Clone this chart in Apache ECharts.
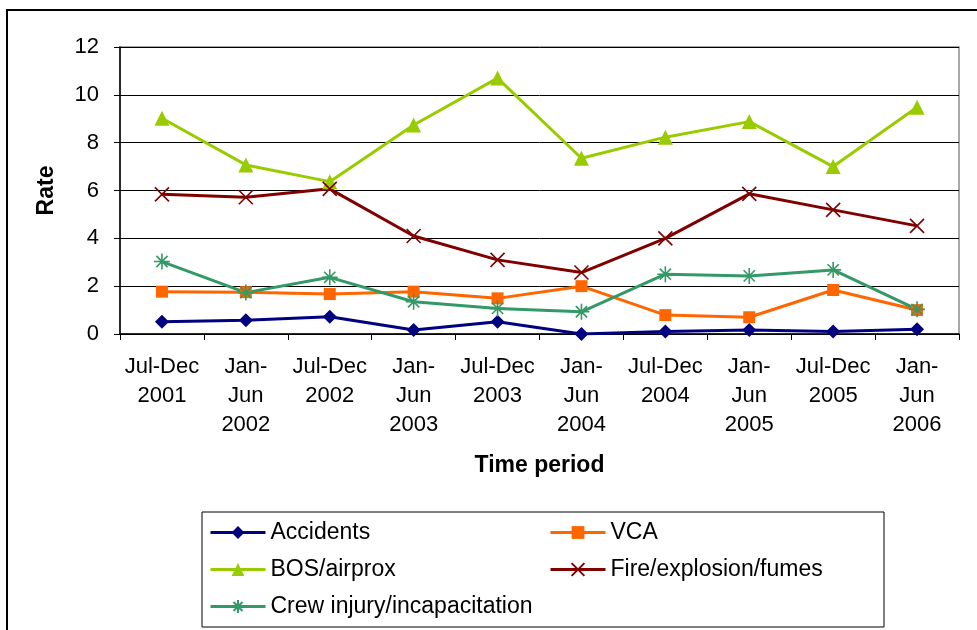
<!DOCTYPE html>
<html>
<head>
<meta charset="utf-8">
<script src="https://cdn.jsdelivr.net/npm/echarts@6/dist/echarts.min.js"></script>
<style>
html,body{margin:0;padding:0;background:#fff;}
#chart{width:977px;height:630px;}
</style>
</head>
<body>
<div id="chart"></div>
<script>
const categories = ["Jul-Dec\n2001","Jan-\nJun\n2002","Jul-Dec\n2002","Jan-\nJun\n2003","Jul-Dec\n2003","Jan-\nJun\n2004","Jul-Dec\n2004","Jan-\nJun\n2005","Jul-Dec\n2005","Jan-\nJun\n2006"];
const accidents = [0.51,0.58,0.72,0.17,0.51,0.0,0.1,0.17,0.1,0.2];
const vca = [1.77,1.75,1.67,1.77,1.49,2.0,0.79,0.70,1.84,1.0];
const bos = [9.02,7.07,6.37,8.74,10.7,7.35,8.23,8.88,7.0,9.48];
const fire = [5.84,5.72,6.07,4.1,3.1,2.57,4.0,5.86,5.19,4.52];
const crew = [3.03,1.73,2.37,1.35,1.07,0.93,2.5,2.43,2.68,1.03];
const yTicks = [0,2,4,6,8,10,12];

const FONT = '"Liberation Sans", Arial, sans-serif';
const chart = echarts.init(document.getElementById('chart'), null, {renderer:'canvas'});

function mk(name, data, color, symbol, size, stroke) {
  return {
    name: name, type: 'line', data: data,
    symbol: symbol, symbolSize: size,
    lineStyle: {color: color, width: 3},
    itemStyle: stroke ? {color: color, borderColor: color, borderWidth: 1.6} : {color: color, borderWidth: 0},
    emphasis: {disabled: true},
    animation: false
  };
}

const X_PATH = 'path://M0,0L10,10M10,0L0,10';
const STAR_PATH = 'path://M5,0L5,10M0,5L10,5M1.5,1.5L8.5,8.5M8.5,1.5L1.5,8.5';

const legendText = {fontFamily: FONT, fontSize: 23, color: '#000', lineHeight: 23};

chart.setOption({
  animation: false,
  backgroundColor: '#fff',
  textStyle: {fontFamily: FONT},
  grid: {left: 120, right: 18, top: 47, bottom: 296, show: true, borderColor: '#8c8c8c', borderWidth: 1.5, containLabel: false},
  xAxis: {
    type: 'category', data: categories, boundaryGap: true,
    name: 'Time period', nameLocation: 'middle', nameGap: 120,
    nameTextStyle: {fontFamily: FONT, fontSize: 23, fontWeight: 'bold', color: '#000'},
    axisLine: {lineStyle: {color: '#000', width: 1.5}},
    axisTick: {show: true, interval: 0, length: 6, lineStyle: {color: '#000'}},
    axisLabel: {interval: 0, margin: 18, fontFamily: FONT, fontSize: 22, lineHeight: 29, color: '#000'},
    splitLine: {show: false}
  },
  yAxis: {
    type: 'value', min: 0, max: 12, interval: 2,
    name: 'Rate', nameLocation: 'middle', nameGap: 62, nameRotate: 90,
    nameTextStyle: {fontFamily: FONT, fontSize: 23, fontWeight: 'bold', color: '#000'},
    axisLine: {show: true, lineStyle: {color: '#000', width: 1.5}},
    axisTick: {show: true, length: 6, lineStyle: {color: '#000'}},
    axisLabel: {margin: 21, fontFamily: FONT, fontSize: 22, color: '#000',
      formatter: function(v){ return yTicks.indexOf(v) >= 0 ? String(v) : ''; }},
    splitLine: {show: true, lineStyle: {color: '#000', width: 1}}
  },
  legend: [
    {data: ['Accidents','BOS/airprox','Crew injury/incapacitation'], orient: 'vertical',
     left: 209, top: 521, padding: 0, itemGap: 14, itemWidth: 55, itemHeight: 16,
     lineStyle: {width: 3}, textStyle: legendText, selectedMode: false},
    {data: ['VCA','Fire/explosion/fumes'], orient: 'vertical',
     left: 549, top: 521, padding: 0, itemGap: 14, itemWidth: 55, itemHeight: 16,
     lineStyle: {width: 3}, textStyle: legendText, selectedMode: false}
  ],
  graphic: [
    {type: 'rect', shape: {x: 7, y: 10, width: 1100, height: 800}, style: {fill: 'none', stroke: '#000', lineWidth: 2}, silent: true, z: -10},
    {type: 'rect', shape: {x: 202, y: 512, width: 682, height: 115}, style: {fill: 'none', stroke: '#000', lineWidth: 1}, silent: true, z: -5}
  ],
  series: [
    mk('Accidents', accidents, '#000080', 'diamond', 14, false),
    mk('VCA', vca, '#FF6600', 'rect', 12, false),
    mk('BOS/airprox', bos, '#99CC00', 'triangle', 15, false),
    mk('Fire/explosion/fumes', fire, '#800000', X_PATH, 14, true),
    mk('Crew injury/incapacitation', crew, '#339966', STAR_PATH, 16, true)
  ]
});
</script>
</body>
</html>
